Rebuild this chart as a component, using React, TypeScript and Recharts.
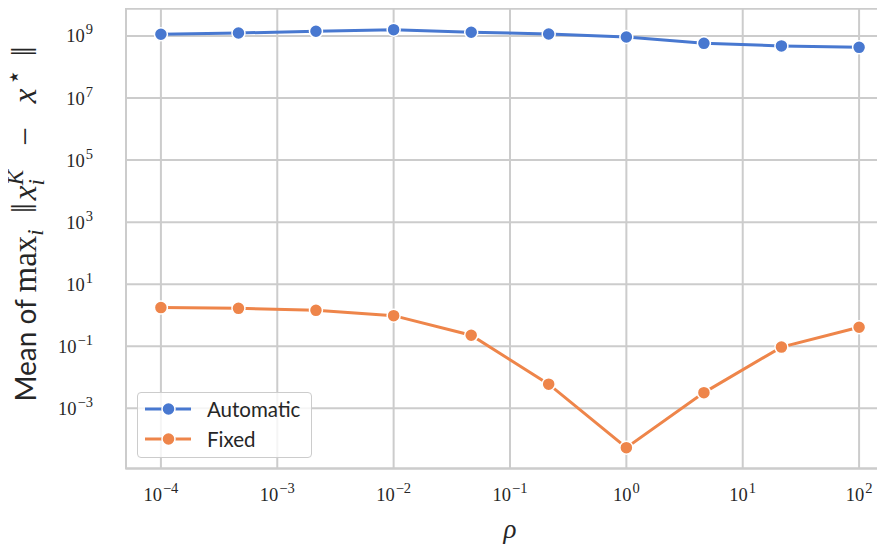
import React from 'react';
import { LineChart, Line, XAxis, YAxis, CartesianGrid, ReferenceArea } from 'recharts';

const rhoValues = [1e-4, 4.64e-4, 2.15e-3, 1e-2, 4.64e-2, 0.215, 1, 4.64, 21.5, 100];
const automaticValues = [1.14e9, 1.25e9, 1.42e9, 1.6e9, 1.32e9, 1.16e9, 9.3e8, 5.8e8, 4.8e8, 4.3e8];
const fixedValues = [1.76, 1.67, 1.44, 0.97, 0.227, 6.0e-3, 5.4e-5, 3.2e-3, 0.094, 0.41];

const xTicks = [1e-4, 1e-3, 1e-2, 1e-1, 1, 10, 100];
const yTicks = [1e-3, 1e-1, 1e1, 1e3, 1e5, 1e7, 1e9];

const X_DOMAIN: [number, number] = [Math.pow(10, -4.3), Math.pow(10, 2.3)];
const Y_DOMAIN: [number, number] = [Math.pow(10, -4.94), Math.pow(10, 9.886)];

const BLUE = '#4878d0';
const ORANGE = '#ee854a';
const GRID = '#cccccc';
const TEXT = '#262626';
const SERIF = '"Liberation Serif", "DejaVu Serif", serif';
const SANS = 'Lato, "DejaVu Sans", sans-serif';

const series = [
  { key: 'automatic', name: 'Automatic', color: BLUE },
  { key: 'fixed', name: 'Fixed', color: ORANGE },
];

const data = rhoValues.map((rho, i) => ({
  rho,
  automatic: automaticValues[i],
  fixed: fixedValues[i],
}));

const expLabel = (value: number) => {
  const exp = Math.round(Math.log10(value));
  return exp < 0 ? `\u2212${-exp}` : `${exp}`;
};

const PowerTick = (props: any) => {
  const { x, y, payload, anchor, shift } = props;
  return (
    <text x={x} y={y + shift} textAnchor={anchor} fill={TEXT} fontFamily={SERIF} fontSize={18.5}>
      10
      <tspan dy={-8} dx={1} fontSize={14.5}>
        {expLabel(payload.value)}
      </tspan>
    </text>
  );
};

const YLabel = (props: any) => {
  const { viewBox } = props;
  const cx = 36;
  const cy = viewBox.y + 215.5;
  return (
    <text
      x={cx}
      y={cy}
      transform={`rotate(-90, ${cx}, ${cy})`}
      textAnchor="middle"
      fill={TEXT}
      fontSize={33}
    >
      <tspan fontFamily={SANS} fontSize={28}>Mean of </tspan>
      <tspan fontFamily={SERIF}>max</tspan>
      <tspan fontFamily={SERIF} fontStyle="italic" fontSize={23} dy={7}>i</tspan>
      <tspan fontFamily={SERIF} fontSize={36} dy={-7} dx={16}>‖</tspan>
      <tspan fontFamily={SERIF} fontStyle="italic" dx={3}>x</tspan>
      <tspan fontFamily={SERIF} fontStyle="italic" fontSize={23} dy={8}>i</tspan>
      <tspan fontFamily={SERIF} fontStyle="italic" fontSize={23} dy={-21} dx={-6}>K</tspan>
      <tspan fontFamily={SERIF} dy={13} dx={24}>−</tspan>
      <tspan fontFamily={SERIF} fontStyle="italic" dx={24}>x</tspan>
      <tspan fontFamily={SERIF} fontSize={25} dy={-14} dx={4}>⋆</tspan>
      <tspan fontFamily={SERIF} fontSize={36} dy={14} dx={12}>‖</tspan>
    </text>
  );
};

const XLabel = (props: any) => {
  const { viewBox } = props;
  return (
    <text
      x={viewBox.x + viewBox.width / 2}
      y={viewBox.y + 69.5}
      textAnchor="middle"
      fill={TEXT}
      fontFamily={SERIF}
      fontStyle="italic"
      fontSize={27}
    >
      ρ
    </text>
  );
};

const LegendBox = () => (
  <div
    style={{
      position: 'absolute',
      left: 137,
      top: 392,
      width: 175,
      height: 66,
      boxSizing: 'border-box',
      border: `1.5px solid ${GRID}`,
      borderRadius: 4,
      background: 'rgba(255,255,255,0.8)',
    }}
  >
    {series.map((s, i) => (
      <div
        key={s.key}
        style={{ position: 'absolute', left: 0, top: 4 + i * 30, height: 24, display: 'flex', alignItems: 'center' }}
      >
        <svg width={60} height={24} style={{ display: 'block' }}>
          <line x1={7} y1={12} x2={53} y2={12} stroke={s.color} strokeWidth={3} />
          <circle cx={30.5} cy={12} r={6.5} fill={s.color} stroke="#fff" strokeWidth={1.5} />
        </svg>
        <span style={{ marginLeft: 9, fontFamily: SANS, fontSize: 20.5, color: TEXT, lineHeight: '24px' }}>
          {s.name}
        </span>
      </div>
    ))}
  </div>
);

export default function App() {
  return (
    <div
      style={{
        position: 'relative',
        width: 885,
        height: 551,
        marginLeft: -8,
        marginTop: -8,
        overflow: 'hidden',
        background: '#fff',
      }}
    >
      <LineChart width={900} height={551} data={data} margin={{ top: 8.5, right: 6, bottom: 0, left: 0 }}>
        <CartesianGrid stroke={GRID} strokeWidth={2} />
        <ReferenceArea
          x1={X_DOMAIN[0]}
          x2={X_DOMAIN[1]}
          y1={Y_DOMAIN[0]}
          y2={Y_DOMAIN[1]}
          fill="none"
          stroke={GRID}
          strokeWidth={2}
          ifOverflow="visible"
        />
        <XAxis
          dataKey="rho"
          type="number"
          scale="log"
          domain={X_DOMAIN}
          allowDataOverflow
          ticks={xTicks}
          height={82.5}
          axisLine={false}
          tickLine={false}
          tickSize={0}
          tickMargin={20}
          interval={0}
          tick={(p: any) => <PowerTick {...p} anchor="middle" shift={12.5} />}
          label={<XLabel />}
        />
        <YAxis
          type="number"
          scale="log"
          domain={Y_DOMAIN}
          allowDataOverflow
          ticks={yTicks}
          width={126}
          axisLine={false}
          tickLine={false}
          tickSize={0}
          tickMargin={33}
          interval={0}
          tick={(p: any) => <PowerTick {...p} anchor="end" shift={6.5} />}
          label={<YLabel />}
        />
        {series.map((s) => (
          <Line
            key={s.key}
            dataKey={s.key}
            name={s.name}
            stroke={s.color}
            strokeWidth={3}
            dot={{ r: 6.5, fill: s.color, stroke: '#fff', strokeWidth: 1.5 }}
            activeDot={false}
            isAnimationActive={false}
          />
        ))}
      </LineChart>
      <LegendBox />
    </div>
  );
}
